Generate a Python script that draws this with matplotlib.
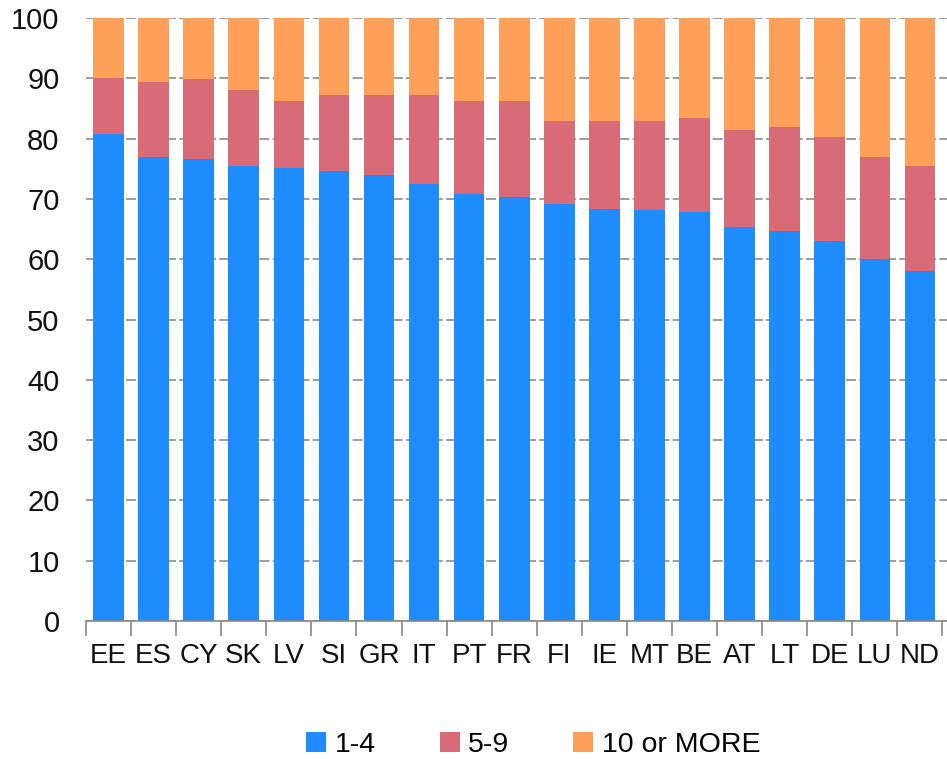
import matplotlib
matplotlib.use('Agg')
import matplotlib.pyplot as plt
import numpy as np

plt.rcParams['font.family'] = ['Liberation Sans', 'DejaVu Sans']

# Share of firms by size class (cumulative tops read as 1-4 / 5-9 / 10 or more)
countries = ['EE', 'ES', 'CY', 'SK', 'LV', 'SI', 'GR', 'IT', 'PT', 'FR',
             'FI', 'IE', 'MT', 'BE', 'AT', 'LT', 'DE', 'LU', 'ND']
small = [80.8, 76.9, 76.6, 75.4, 75.1, 74.7, 73.9, 72.5, 70.8, 70.3,
         69.1, 68.3, 68.1, 67.9, 65.3, 64.6, 63.0, 60.1, 58.0]
medium = [9.2, 12.5, 13.3, 12.6, 11.2, 12.6, 13.4, 14.7, 15.5, 15.9,
          13.8, 14.7, 14.8, 15.5, 16.2, 17.3, 17.2, 16.8, 17.4]
large = [10.0, 10.6, 10.1, 12.0, 13.7, 12.7, 12.7, 12.8, 13.7, 13.8,
         17.1, 17.0, 17.1, 16.6, 18.5, 18.1, 19.8, 23.1, 24.6]
labels = ['1-4', '5-9', '10 or MORE']
colors = ['#1E8CFF', '#D96A78', '#FFA05A']

fig = plt.figure(figsize=(9.47, 7.59), dpi=100)
ax = fig.add_axes([0.0908, 0.1818, 0.9092, 0.7945])

x = np.arange(len(countries))
bottom = np.zeros(len(countries))
for vals, lab, col in zip([small, medium, large], labels, colors):
    ax.bar(x, vals, width=0.68, bottom=bottom, color=col, label=lab, zorder=2)
    bottom += np.array(vals)

ax.set_xlim(-0.5, len(countries) - 0.4)
ax.set_ylim(0, 100)
ax.set_yticks(range(0, 101, 10))
ax.yaxis.grid(True, color='#8c8c8c', linestyle=(0, (6, 2)), linewidth=1.2, zorder=1)
ax.tick_params(axis='y', length=0, labelsize=21, pad=19, labelcolor='#111111')

# category labels centred on bars, tick marks between them
ax.set_xticks(x)
ax.set_xticklabels(countries)
ax.set_xticks(np.arange(len(countries) + 1) - 0.5, minor=True)
ax.tick_params(axis='x', which='major', length=0, labelsize=20, pad=16,
               labelcolor='#111111')
ax.tick_params(axis='x', which='minor', length=11, width=1.2, color='#888888')

for side in ['top', 'right', 'left']:
    ax.spines[side].set_visible(False)
ax.spines['bottom'].set_color('#888888')
ax.spines['bottom'].set_linewidth(1.2)

fig.legend(loc='center', bbox_to_anchor=(0.563, 0.018), ncol=3, frameon=False,
           fontsize=20.5, handlelength=0.7, handleheight=0.7, handletextpad=0.3,
           columnspacing=2.25)

fig.savefig('out.png', dpi=100)
